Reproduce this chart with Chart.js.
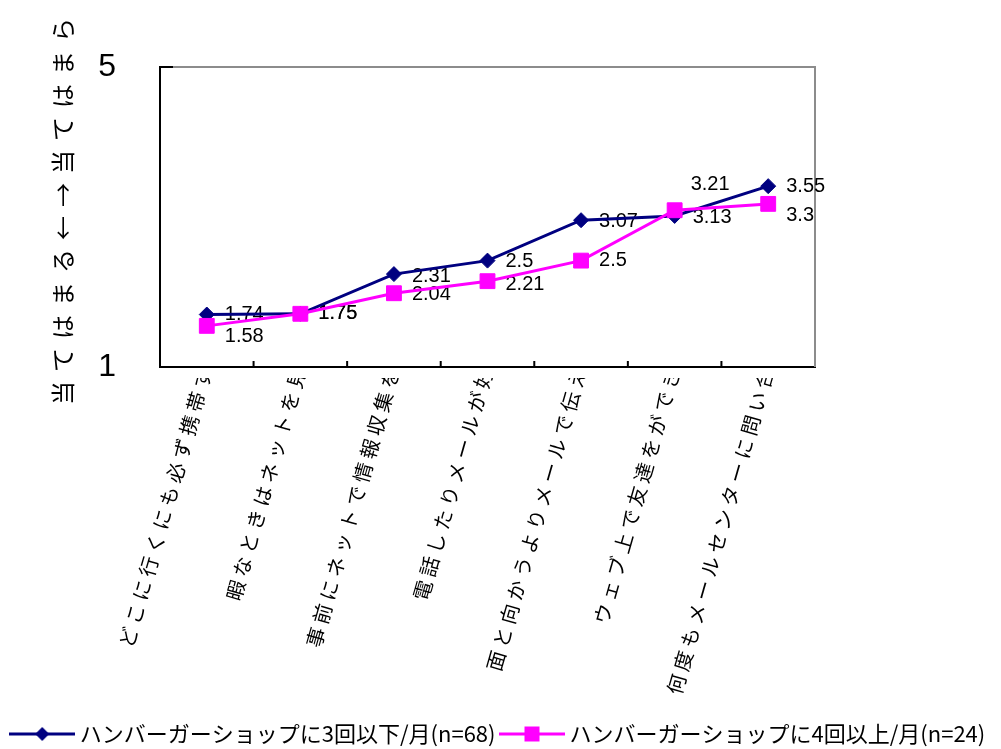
<!DOCTYPE html>
<html>
<head>
<meta charset="utf-8">
<script src="https://cdn.jsdelivr.net/npm/chart.js@4/dist/chart.umd.min.js"></script>
<style>
  html, body { margin: 0; padding: 0; background: #ffffff; }
  #wrap { width: 1001px; height: 749px; }
</style>
</head>
<body>
<div id="wrap"><canvas id="c" width="1001" height="749"></canvas></div>
<script>
// Survey items (labels are cut off by the axis box, as in the printed chart)
const categories = [
  'どこに行くにも必ず携帯す',
  '暇なときはネットを見',
  '事前にネットで情報収集を',
  '電話したりメールが好',
  '面と向かうよりメールで伝え',
  'ウェブ上で友達をができ',
  '何度もメールセンターに問い合'
];
const seriesNames = [
  'ハンバーガーショップに3回以下/月(n=68)',
  'ハンバーガーショップに4回以上/月(n=24)'
];
const lowFreqScores = [1.74, 1.75, 2.31, 2.5, 3.07, 3.13, 3.55];
const highFreqScores = [1.58, 1.75, 2.04, 2.21, 2.5, 3.21, 3.3];
const yTickLabels = ['1', '5'];
const yAxisTitle = '当てはまる←→当てはまら';

// Styling
const NAVY = '#000080';
const MAGENTA = '#FF00FF';
const FRAME_GREY = '#8c8c8c';
const Y_MIN = 1, Y_MAX = 5.23;
// value label offsets (dx, dy) relative to each point
const lowLabelOffset = [[18, 0], [18, 0], [18, 2], [18, 1], [18, 1], [18, 2], [18, 0]];
const highLabelOffset = [[18, 11], [18, 0], [18, 1], [18, 3], [18, 0], [16, -26], [18, 12]];

// Legend icons: line segment with the series marker in the middle
function makeLegendIcon(color, shape) {
  const cv = document.createElement('canvas');
  cv.width = 66; cv.height = 20;
  const g = cv.getContext('2d');
  g.strokeStyle = color; g.lineWidth = 3;
  g.beginPath(); g.moveTo(0, 10); g.lineTo(66, 10); g.stroke();
  g.fillStyle = color;
  g.beginPath();
  if (shape === 'diamond') {
    g.moveTo(33, 3); g.lineTo(40, 10); g.lineTo(33, 17); g.lineTo(26, 10); g.closePath();
  } else {
    g.rect(25.5, 2.5, 15, 15);
  }
  g.fill();
  return cv;
}
const legendIcons = [makeLegendIcon(NAVY, 'diamond'), makeLegendIcon(MAGENTA, 'square')];

// Plot frame (grey top/right), inner tick marks, and value labels
const framePlugin = {
  id: 'frameAndLabels',
  afterLayout(chart) {
    const xs = chart.scales.x, ys = chart.scales.y;
    if (!xs._spacedLabels) {
      const origLabels = xs.drawLabels.bind(xs);
      xs.drawLabels = function (area) {
        const ctx = this.ctx;
        ctx.save();
        ctx.beginPath();
        ctx.rect(0, this.top + 11, chart.width, chart.height);
        ctx.clip();
        ctx.letterSpacing = '4.5px';
        origLabels(area);
        ctx.restore();
      };
      xs._spacedLabels = true;
    }
    if (!ys._spacedTitle) {
      const origTitle = ys.drawTitle.bind(ys);
      ys.drawTitle = function (area) {
        const ctx = this.ctx;
        ctx.save();
        ctx.translate(0, -10);
        ctx.letterSpacing = '9px';
        origTitle(area);
        ctx.restore();
      };
      ys._spacedTitle = true;
    }
  },
  beforeDatasetsDraw(chart) {
    const ctx = chart.ctx;
    const {left, right, top, bottom} = chart.chartArea;
    const xs = chart.scales.x, ys = chart.scales.y;
    ctx.save();
    // grey top and right edges
    ctx.strokeStyle = FRAME_GREY;
    ctx.lineWidth = 2;
    ctx.beginPath();
    ctx.moveTo(left, top); ctx.lineTo(right, top); ctx.lineTo(right, bottom);
    ctx.stroke();
    // inward tick at the top of the value axis
    ctx.strokeStyle = '#000000';
    ctx.lineWidth = 2;
    const yTop = ys.getPixelForValue(Y_MAX);
    ctx.beginPath(); ctx.moveTo(left, yTop); ctx.lineTo(left + 13, yTop); ctx.stroke();
    // inward ticks between categories
    const n = categories.length;
    ctx.beginPath();
    for (let i = 0; i < n - 1; i++) {
      const xb = (xs.getPixelForValue(i) + xs.getPixelForValue(i + 1)) / 2;
      ctx.moveTo(xb, bottom); ctx.lineTo(xb, bottom - 6);
    }
    ctx.stroke();
    // value labels (drawn beneath the lines)
    ctx.fillStyle = '#000000';
    ctx.font = '20px "Liberation Sans", Arial, sans-serif';
    ctx.textAlign = 'left';
    ctx.textBaseline = 'middle';
    const offsets = [lowLabelOffset, highLabelOffset];
    chart.data.datasets.forEach((ds, di) => {
      const meta = chart.getDatasetMeta(di);
      meta.data.forEach((pt, i) => {
        const [dx, dy] = offsets[di][i];
        ctx.fillText(String(ds.data[i]), pt.x + dx, pt.y + dy);
      });
    });
    ctx.restore();
  }
};

new Chart(document.getElementById('c'), {
  type: 'line',
  data: {
    labels: categories,
    datasets: [
      {
        label: seriesNames[0],
        data: lowFreqScores,
        borderColor: NAVY,
        backgroundColor: NAVY,
        borderWidth: 3,
        pointStyle: 'rectRot',
        pointRadius: 7.5,
        pointHoverRadius: 7.5,
        pointBorderWidth: 1,
        pointBackgroundColor: NAVY,
        pointBorderColor: NAVY,
        tension: 0,
        order: 1
      },
      {
        label: seriesNames[1],
        data: highFreqScores,
        borderColor: MAGENTA,
        backgroundColor: MAGENTA,
        borderWidth: 3,
        pointStyle: 'rect',
        pointRadius: 10.5,
        pointHoverRadius: 10.5,
        pointBorderWidth: 1,
        pointBackgroundColor: MAGENTA,
        pointBorderColor: MAGENTA,
        tension: 0,
        order: 0
      }
    ]
  },
  options: {
    responsive: false,
    animation: false,
    devicePixelRatio: 1,
    layout: { padding: { top: 67, right: 0, left: 0, bottom: -6 } },
    scales: {
      x: {
        type: 'category',
        offset: true,
        grid: { display: false, drawTicks: false },
        border: { display: true, color: '#000000', width: 2 },
        ticks: {
          autoSkip: false,
          maxRotation: 74,
          minRotation: 74,
          padding: -6,
          color: '#000000',
          font: { family: '"Noto Sans CJK JP", sans-serif', size: 20 }
        },
        afterFit(scale) { scale.height = 346; }
      },
      y: {
        min: Y_MIN,
        max: Y_MAX,
        grid: { display: false, drawTicks: false },
        border: { display: true, color: '#000000', width: 2 },
        afterBuildTicks(scale) {
          scale.ticks = [{ value: Y_MIN }, { value: Y_MAX }];
        },
        ticks: {
          padding: 44,
          color: '#000000',
          font: { family: '"Liberation Sans", Arial, sans-serif', size: 32 },
          callback: (v, i) => yTickLabels[i]
        },
        title: {
          display: true,
          text: yAxisTitle,
          color: '#000000',
          padding: { top: 48, bottom: 0 },
          font: { family: '"Noto Sans CJK JP", sans-serif', size: 24 }
        },
        afterFit(scale) { scale.width = 160; }
      },
      // empty margin on the right of the plot
      rightMargin: {
        type: 'linear',
        position: 'right',
        display: true,
        grid: { display: false, drawTicks: false },
        border: { display: false },
        ticks: { display: false },
        afterFit(scale) { scale.width = 186; }
      }
    },
    plugins: {
      tooltip: { enabled: false },
      legend: {
        display: true,
        position: 'bottom',
        labels: {
          usePointStyle: true,
          pointStyleWidth: 53,
          padding: 10,
          color: '#000000',
          font: { family: '"Noto Sans CJK JP", sans-serif', size: 22 },
          sort: (a, b) => a.datasetIndex - b.datasetIndex,
          generateLabels(chart) {
            const items = Chart.defaults.plugins.legend.labels.generateLabels(chart);
            items.forEach(it => { it.pointStyle = legendIcons[it.datasetIndex]; });
            return items;
          }
        }
      }
    }
  },
  plugins: [framePlugin]
});
</script>
</body>
</html>
